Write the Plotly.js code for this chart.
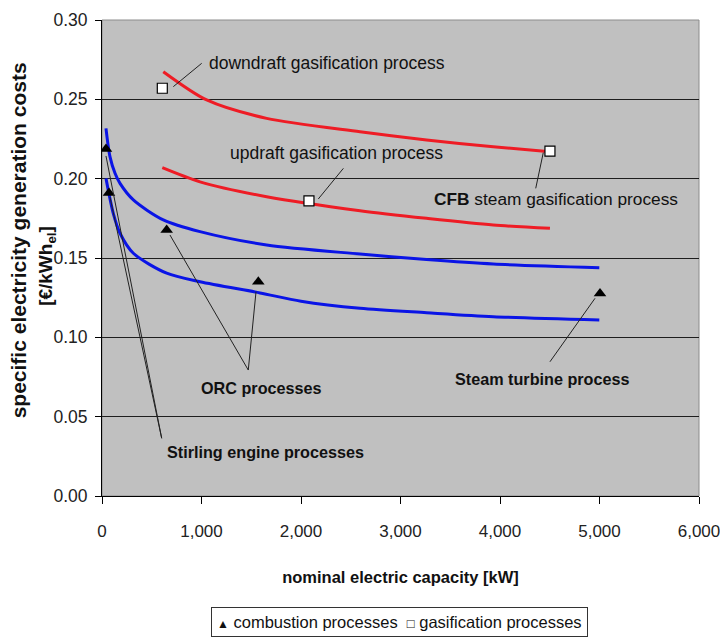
<!DOCTYPE html>
<html>
<head>
<meta charset="utf-8">
<script src="https://cdn.plot.ly/plotly-3.0.1.min.js"></script>
<style>html,body{margin:0;padding:0;background:#fff;}#chart{width:720px;height:638px;}</style>
</head>
<body>
<div id="chart"></div>
<script>
// ---- data ----
const downdraftX = [616, 1052, 1655, 2593, 3262, 3932, 4502];
const downdraftY = [0.2674, 0.2496, 0.2380, 0.2296, 0.2244, 0.2201, 0.2170];

const updraftX = [606, 985, 1655, 2593, 3262, 3932, 4502];
const updraftY = [0.2069, 0.1980, 0.1886, 0.1798, 0.1750, 0.1708, 0.1687];

const orcUpperX = [40, 80, 131, 181, 315, 616, 985, 1655, 2593, 3262, 3932, 4998];
const orcUpperY = [0.2317, 0.2139, 0.2034, 0.1970, 0.1866, 0.1740, 0.1666, 0.1582, 0.1525, 0.1490, 0.1462, 0.1439];

const lowerX = [40, 114, 181, 315, 650, 985, 1588, 2000, 2593, 3262, 3932, 4998];
const lowerY = [0.2002, 0.1780, 0.1656, 0.1530, 0.1404, 0.1350, 0.1280, 0.1228, 0.1183, 0.1155, 0.1130, 0.1109];

const combustionX = [40, 70, 650, 1571, 5005];
const combustionY = [0.2187, 0.1910, 0.1676, 0.1350, 0.1277];

const gasificationX = [606, 2080, 4502];
const gasificationY = [0.2570, 0.1860, 0.2174];

const xTickVals = [0, 1000, 2000, 3000, 4000, 5000, 6000];
const yTickVals = [0, 0.05, 0.10, 0.15, 0.20, 0.25, 0.30];

const legendNames = ['combustion processes', 'gasification processes'];

// ---- styling ----
const SANS = "'Liberation Sans', Arial, sans-serif";
const RED = '#ee1c25';
const BLUE = '#0a14e6';
const TXT = '#111111';

function curve(x, y, color) {
  return {x: x, y: y, type: 'scatter', mode: 'lines', line: {color: color, width: 3, shape: 'spline', smoothing: 0.8},
          showlegend: false, hoverinfo: 'skip'};
}

const traces = [
  curve(downdraftX, downdraftY, RED),
  curve(updraftX, updraftY, RED),
  curve(orcUpperX, orcUpperY, BLUE),
  curve(lowerX, lowerY, BLUE),
  {x: combustionX, y: combustionY, type: 'scatter', mode: 'markers', showlegend: false, name: legendNames[0],
   marker: {symbol: 'triangle-up', size: 11, color: '#000'}},
  {x: gasificationX, y: gasificationY, type: 'scatter', mode: 'markers', showlegend: false, name: legendNames[1],
   marker: {symbol: 'square', size: 10, color: '#fff', line: {color: '#000', width: 1.2}}}
];

function label(x, y, text, size) {
  return {x: x, y: y, xref: 'x', yref: 'y', text: text,
          showarrow: false, xanchor: 'left', yanchor: 'middle',
          font: {family: SANS, size: size, color: TXT}};
}
function leader(x0, y0, x1, y1) {
  return {type: 'line', xref: 'x', yref: 'y', x0: x0, y0: y0, x1: x1, y1: y1,
          line: {color: '#222', width: 1}};
}

const annotations = [
  label(1052, 0.2727, 'downdraft gasification process', 17.5),
  label(1270, 0.2160, 'updraft gasification process', 17.5),
  label(3313, 0.1872, '<b>CFB</b> steam gasification process', 17.3),
  label(978, 0.0679, '<b>ORC processes</b>', 16.2),
  label(3531, 0.0735, '<b>Steam turbine process</b>', 16.2),
  label(633, 0.0279, '<b>Stirling engine processes</b>', 16.2),
  {x: -0.1400, y: 0.538, xref: 'paper', yref: 'paper', textangle: -90, showarrow: false,
   xanchor: 'center', yanchor: 'middle',
   text: '<b>specific electricity generation costs</b>', font: {family: SANS, size: 21, color: TXT}},
  {x: -0.0925, y: 0.483, xref: 'paper', yref: 'paper', textangle: -90, showarrow: false,
   xanchor: 'center', yanchor: 'middle',
   text: '<b>[€/kWh<sub>el</sub>]</b>', font: {family: SANS, size: 19, color: TXT}},
  // legend box
  {x: 0.499, y: -0.265, xref: 'paper', yref: 'paper', showarrow: false,
   xanchor: 'center', yanchor: 'middle',
   text: '<span style="font-size:12px">▲</span> ' + legendNames[0] + '  <span style="font-size:13px">□</span> ' + legendNames[1],
   font: {family: SANS, size: 16.5, color: TXT},
   bordercolor: '#333', borderwidth: 1, borderpad: 5, bgcolor: '#fff'}
];

const shapes = [
  {type: 'rect', xref: 'paper', yref: 'paper', x0: 0, y0: 0, x1: 1, y1: 1,
   line: {color: '#8c8c8c', width: 1}, fillcolor: 'rgba(0,0,0,0)', layer: 'below'},
  leader(1002, 0.2727, 717, 0.2580),
  leader(2426, 0.2065, 2174, 0.1872),
  leader(4359, 0.1939, 4435, 0.2164),
  leader(4502, 0.0846, 4955, 0.1246),
  leader(1470, 0.0794, 683, 0.1645),
  leader(1470, 0.0794, 1548, 0.1288),
  leader(600, 0.0364, 80, 0.1884),
  leader(600, 0.0364, 40, 0.2143)
];

const layout = {
  width: 720, height: 638,
  margin: {l: 102, r: 21, t: 20, b: 142},
  paper_bgcolor: '#ffffff',
  plot_bgcolor: '#c0c0c0',
  font: {family: SANS, size: 17, color: TXT},
  showlegend: false,
  xaxis: {
    range: [0, 6000], tickvals: xTickVals, tickformat: ',d',
    showgrid: false, zeroline: false,
    showline: true, linecolor: '#000', linewidth: 1,
    ticks: 'outside', ticklen: 7, tickcolor: '#000', ticklabelstandoff: 13,
    ticklabeloverflow: 'allow',
    tickfont: {family: SANS, size: 17, color: '#222'},
    title: {text: '<b>nominal electric capacity [kW]</b>', font: {family: SANS, size: 16.5, color: TXT}, standoff: 31}
  },
  yaxis: {
    range: [0, 0.30], tickvals: yTickVals, tickformat: '.2f',
    showgrid: true, gridcolor: '#1e1e1e', gridwidth: 1, zeroline: false,
    showline: true, linecolor: '#000', linewidth: 1,
    ticks: 'outside', ticklen: 6, tickcolor: '#000', ticklabelstandoff: 4,
    tickfont: {family: SANS, size: 17.5, color: '#222'}
  },
  annotations: annotations,
  shapes: shapes
};

Plotly.newPlot('chart', traces, layout, {staticPlot: true, displayModeBar: false});
</script>
</body>
</html>
